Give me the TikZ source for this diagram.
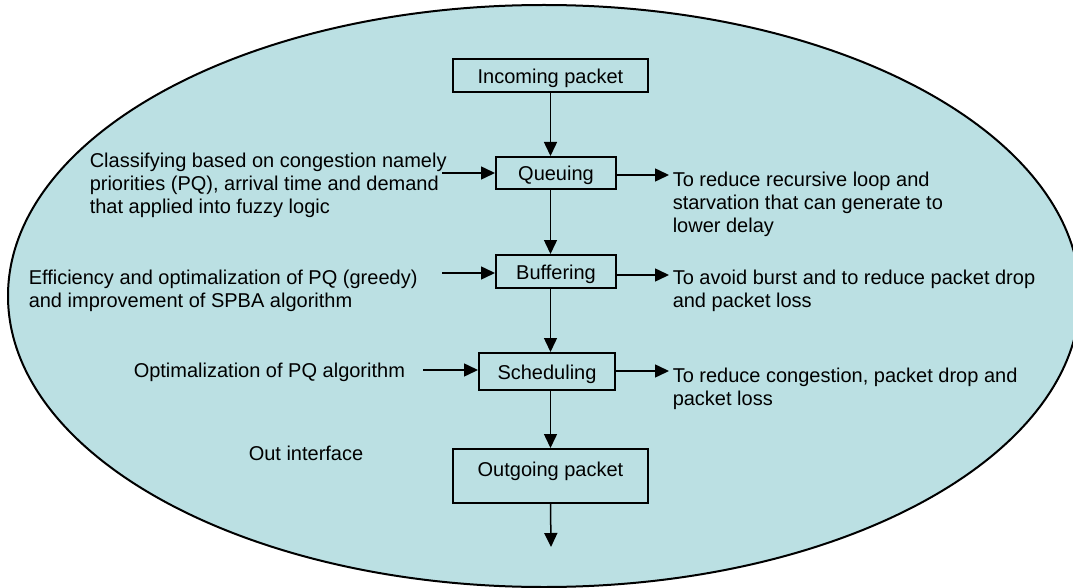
\documentclass[tikz,border=0pt]{standalone}
\usepackage{fontspec}
\setmainfont{Liberation Sans}
\usetikzlibrary{arrows.meta}

\definecolor{cellblue}{RGB}{187,224,227}

\tikzset{every picture/.style={line width=1.5pt}}
\tikzset{
  stagebox/.style={draw,line width=2pt,inner sep=0pt,text height=16pt,text depth=0pt,font=\fontsize{20}{23}\selectfont},
  note/.style={inner sep=0pt,align=left,font=\fontsize{20}{23}\selectfont},
  flow/.style={-{Triangle[length=14pt,width=13pt]}}
}

\begin{document}
\begin{tikzpicture}[x=1pt,y=1pt,yscale=-1,xscale=1]
\useasboundingbox (0,0) rectangle (1073,588);

%Shape: Ellipse
\begin{scope}
\clip (0,0) rectangle (1073,588);
\draw [fill=cellblue,line width=2pt] (544,296) ellipse [x radius=536, y radius=291];
\end{scope}

%Shape: Rectangle
\node [stagebox,minimum width=195,minimum height=33] (inc) at (550.5,75.5) {Incoming packet};
\node [stagebox,minimum width=120,minimum height=32] (que) at (556,173) {Queuing};
\node [stagebox,minimum width=120,minimum height=33] (buf) at (556,271.5) {Buffering};
\node [stagebox,minimum width=136,minimum height=37] (sch) at (547,371.5) {Scheduling};
\node [stagebox,minimum width=195,minimum height=54,text height=16pt,text depth=16pt] (out) at (550.5,476) {Outgoing packet};

%Free ends of the side arrows
\coordinate (inq) at (442,173);
\coordinate (inb) at (442,273);
\coordinate (ins) at (423,370);
\coordinate (outq) at (669,175);
\coordinate (outb) at (669,275);
\coordinate (outs) at (669,371);
\coordinate (exit) at (551,547);

% Text Node (base = last line)
\node [note,anchor=base west] (lq) at (89,213) {Classifying based on congestion namely\\priorities (PQ), arrival time and demand\\that applied into fuzzy logic};
% Text Node
\node [note,anchor=base west] (lb) at (28,307) {Efficiency and optimalization of PQ (greedy)\\and improvement of SPBA algorithm};
% Text Node
\node [note,anchor=base west] (ls) at (133,377) {Optimalization of PQ algorithm};
% Text Node
\node [note,anchor=base west] (lo) at (248,460) {Out interface};
% Text Node
\node [note,anchor=base west] (rq) at (672,232) {To reduce recursive loop and\\starvation that can generate to\\lower delay};
% Text Node
\node [note,anchor=base west] (rb) at (672,307) {To avoid burst and to reduce packet drop\\and packet loss};
% Text Node
\node [note,anchor=base west] (rs) at (672,405) {To reduce congestion, packet drop and\\packet loss};

%Straight Lines
\draw [flow] (inc.south) -- (inc.south |- que.north);
\draw [flow] (inc.south |- que.south) -- (inc.south |- buf.north);
\draw [flow] (inc.south |- buf.south) -- (inc.south |- sch.north);
\draw [flow] (inc.south |- sch.south) -- (out.north);
\draw [flow] (out.south) -- (exit);
%Straight Lines
\draw [flow] (inq) -- (que.west |- inq);
\draw [flow] (inb) -- (buf.west |- inb);
\draw [flow] (ins) -- (sch.west |- ins);
%Straight Lines
\draw [flow] (que.east |- outq) -- (outq);
\draw [flow] (buf.east |- outb) -- (outb);
\draw [flow] (sch.east |- outs) -- (outs);

\end{tikzpicture}
\end{document}
